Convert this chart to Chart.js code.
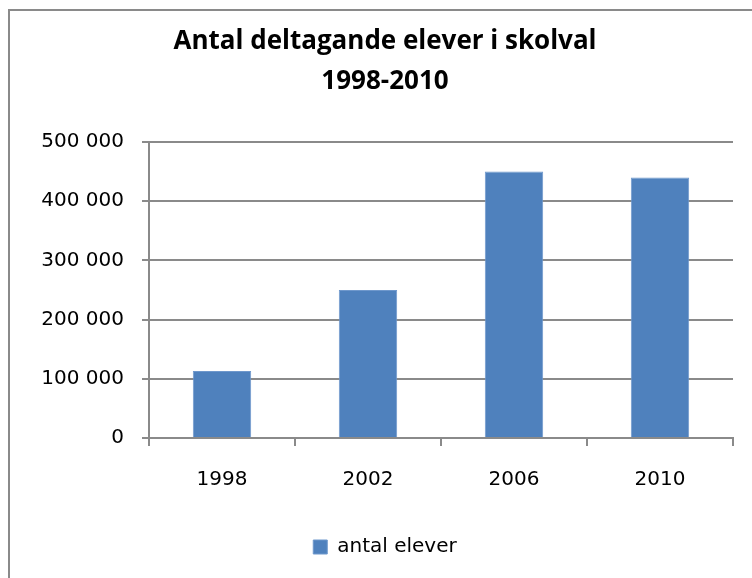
<!DOCTYPE html>
<html>
<head>
<meta charset="utf-8">
<script src="https://cdn.jsdelivr.net/npm/chart.js@4/dist/chart.umd.min.js"></script>
<style>
  body { margin: 0; background: #fff; }
  #wrap { position: relative; width: 752px; height: 578px; overflow: hidden; }
  #frame { position: absolute; left: 8px; top: 9px; width: 800px; height: 640px; border: 2px solid #8a8a8a; box-sizing: border-box; pointer-events: none; }
</style>
</head>
<body>
<div id="wrap">
  <canvas id="chart" width="752" height="578"></canvas>
  <div id="frame"></div>
</div>
<script>
const years = ['1998', '2002', '2006', '2010'];
const pupils = [113000, 250000, 450000, 440000];
const titleLines = ['Antal deltagande elever i skolval', '1998-2010'];
const seriesName = 'antal elever';

const gray = '#8a8a8a';
const font = 'DejaVu Sans';

function spaced(v) {
    return String(v).replace(/\B(?=(\d{3})+(?!\d))/g, ' ');
}

new Chart(document.getElementById('chart'), {
    type: 'bar',
    data: {
        labels: years,
        datasets: [{
            label: seriesName,
            data: pupils,
            backgroundColor: '#4f81bd',
            borderColor: '#6f98cc',
            borderWidth: 1,
            barPercentage: 0.4,
            categoryPercentage: 1
        }]
    },
    options: {
        responsive: false,
        animation: false,
        layout: { padding: { left: 37, right: 19, top: 22, bottom: 11 } },
        plugins: {
            title: {
                display: true,
                text: titleLines,
                color: '#000',
                font: { family: 'Open Sans', size: 26, weight: 'bold', lineHeight: 40 / 26 },
                padding: { top: 0, bottom: 40 }
            },
            legend: {
                position: 'bottom',
                labels: {
                    color: '#000',
                    boxWidth: 14,
                    boxHeight: 14,
                    font: { family: font, size: 20 },
                    padding: 10
                }
            },
            tooltip: { enabled: false }
        },
        scales: {
            x: {
                offset: true,
                afterFit: function(scale) { scale.height = 89; },
                grid: { offset: true, drawOnChartArea: false, color: gray, lineWidth: 2, tickLength: 8 },
                border: { color: gray, width: 2 },
                ticks: { color: '#000', font: { family: font, size: 20 }, padding: 22 }
            },
            y: {
                min: 0,
                max: 500000,
                afterFit: function(scale) { scale.width = 112; },
                grid: { color: gray, lineWidth: 2, tickLength: 7 },
                border: { color: gray, width: 2 },
                ticks: {
                    stepSize: 100000,
                    color: '#000',
                    font: { family: font, size: 20 },
                    padding: 18,
                    callback: function(v) { return spaced(v); }
                }
            }
        }
    }
});
</script>
</body>
</html>
